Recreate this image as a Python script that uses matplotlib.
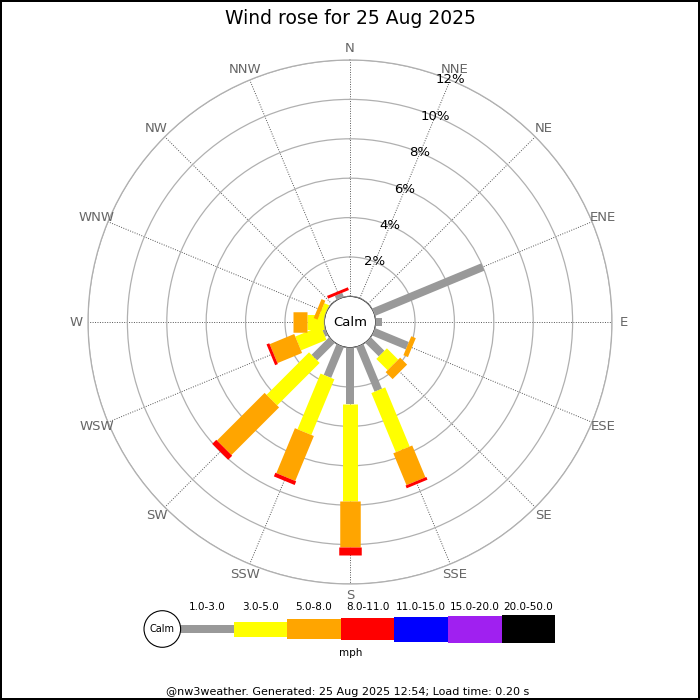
import numpy as np
import matplotlib
matplotlib.use('Agg')
import matplotlib.pyplot as plt
from matplotlib.patches import Circle, Ellipse

# wind directions, clockwise from north
directions = ['N', 'NNE', 'NE', 'ENE', 'E', 'ESE', 'SE', 'SSE',
              'S', 'SSW', 'SW', 'WSW', 'W', 'WNW', 'NW', 'NNW']

# frequency (%) per speed class and direction
freq_1_3 = [0, 0, 0, 6.0, 0.3, 1.85, 0.97, 2.45, 2.86, 1.69, 1.26, 0.15, 0, 0, 0, 0.22]
freq_3_5 = [0, 0, 0, 0, 0, 0, 0.81, 3.25, 4.91, 3.06, 3.05, 1.40, 0.9, 0.27, 0, 0]
freq_5_8 = [0, 0, 0, 0, 0, 0.25, 0.5, 1.75, 2.33, 2.47, 3.42, 1.35, 0.7, 0.21, 0, 0]
freq_8_11 = [0, 0, 0, 0, 0, 0, 0, 0.15, 0.43, 0.2, 0.29, 0.15, 0, 0, 0, 0.15]
freq_11_15 = [0] * 16
freq_15_20 = [0] * 16
freq_20_50 = [0] * 16

speed_labels = ['1.0-3.0', '3.0-5.0', '5.0-8.0', '8.0-11.0', '11.0-15.0', '15.0-20.0', '20.0-50.0']
pct_ticks = [2, 4, 6, 8, 10, 12]

classes = [freq_1_3, freq_3_5, freq_5_8, freq_8_11, freq_11_15, freq_15_20, freq_20_50]
colors = ['#999999', '#ffff00', '#ffa500', '#ff0000', '#0000ff', '#a020f0', '#000000']
widths_px = [8, 15, 20.5, 22.5, 25, 27, 28]   # bar thickness in pixels
PT = 0.72  # points per pixel at dpi=100

fig = plt.figure(figsize=(7, 7), dpi=100)
fig.patch.set_facecolor('white')
fig.patch.set_edgecolor('black')
fig.patch.set_linewidth(1.5)

# polar axes: centre at (350, 322) px, outer ring radius 262 px
ax = fig.add_axes([88 / 700, 116 / 700, 524 / 700, 524 / 700], projection='polar')
ax.set_theta_zero_location('N')
ax.set_theta_direction(-1)
ax.set_ylim(0, 12)
ax.set_rorigin(-1.3)

theta = np.deg2rad(np.arange(16) * 22.5)
ax.set_xticks(theta)
ax.set_xticklabels([])
ax.set_yticks(pct_ticks)
ax.set_yticklabels([])
ax.xaxis.grid(True, color='#555555', linestyle=(0, (1, 1.5)), linewidth=0.7)
ax.yaxis.grid(True, color='#b0b0b0', linestyle='-', linewidth=0.9)
ax.spines['polar'].set_color('#b0b0b0')
ax.spines['polar'].set_linewidth(0.9)

# stacked rose bars drawn as thick lines of constant pixel width
cum = np.zeros(16)
for vals, col, w in zip(classes, colors, widths_px):
    vals = np.array(vals, dtype=float)
    for i in range(16):
        if vals[i] > 0:
            ax.plot([theta[i], theta[i]], [cum[i], cum[i] + vals[i]], color=col,
                    linewidth=w * PT, solid_capstyle='butt', zorder=3)
    cum += vals

# direction labels
for th, d in zip(theta, directions):
    ax.text(th, 12.6, d, ha='center', va='center', fontsize=9.5, color='#666666', clip_on=False)

# percentage labels along the NNE spoke
for p in pct_ticks:
    ax.text(np.deg2rad(22.5), p, f'{p}%', ha='center', va='center', fontsize=9.5, color='black', zorder=5)

# calm circle
ax.add_patch(Circle((0.5, 0.5), 25.5 / 524, transform=ax.transAxes, facecolor='white',
                    edgecolor='#aaaaaa', linewidth=1, zorder=6))
ax.text(0.5, 0.5, 'Calm', transform=ax.transAxes, ha='center', va='center', fontsize=9.5, zorder=7)

fig.text(0.5, 1 - 18 / 700, 'Wind rose for 25 Aug 2025', ha='center', va='center', fontsize=13.5)

# legend strip: each class 53.6 px wide, centred at y = 629 px
seg = 53.6
x0_px = 180 - 0.8 * seg
lax = fig.add_axes([x0_px / 700, (700 - 669) / 700, 7.8 * seg / 700, 80 / 700])
lax.set_xlim(-0.8, 7.0)
lax.set_ylim(-40, 40)
lax.axis('off')
for i, (lab, col, w) in enumerate(zip(speed_labels, colors, widths_px)):
    lax.bar(i, w, bottom=-w / 2, width=1, align='edge', color=col, linewidth=0)
    lax.text(i + 0.5, 22, lab, ha='center', va='center', fontsize=7.5)
lax.text(3.18, -24, 'mph', ha='center', va='center', fontsize=7.5)
lax.add_patch(Ellipse((-0.33, 0), 2 * 18.3 / seg, 36.6, facecolor='white', edgecolor='black',
                      linewidth=0.8, zorder=4))
lax.text(-0.33, 0, 'Calm', ha='center', va='center', fontsize=7, zorder=5)

fig.text(348 / 700, 1 - 692 / 700, '@nw3weather. Generated: 25 Aug 2025 12:54; Load time: 0.20 s',
         ha='center', va='center', fontsize=8)

fig.savefig('out.png', dpi=100)
